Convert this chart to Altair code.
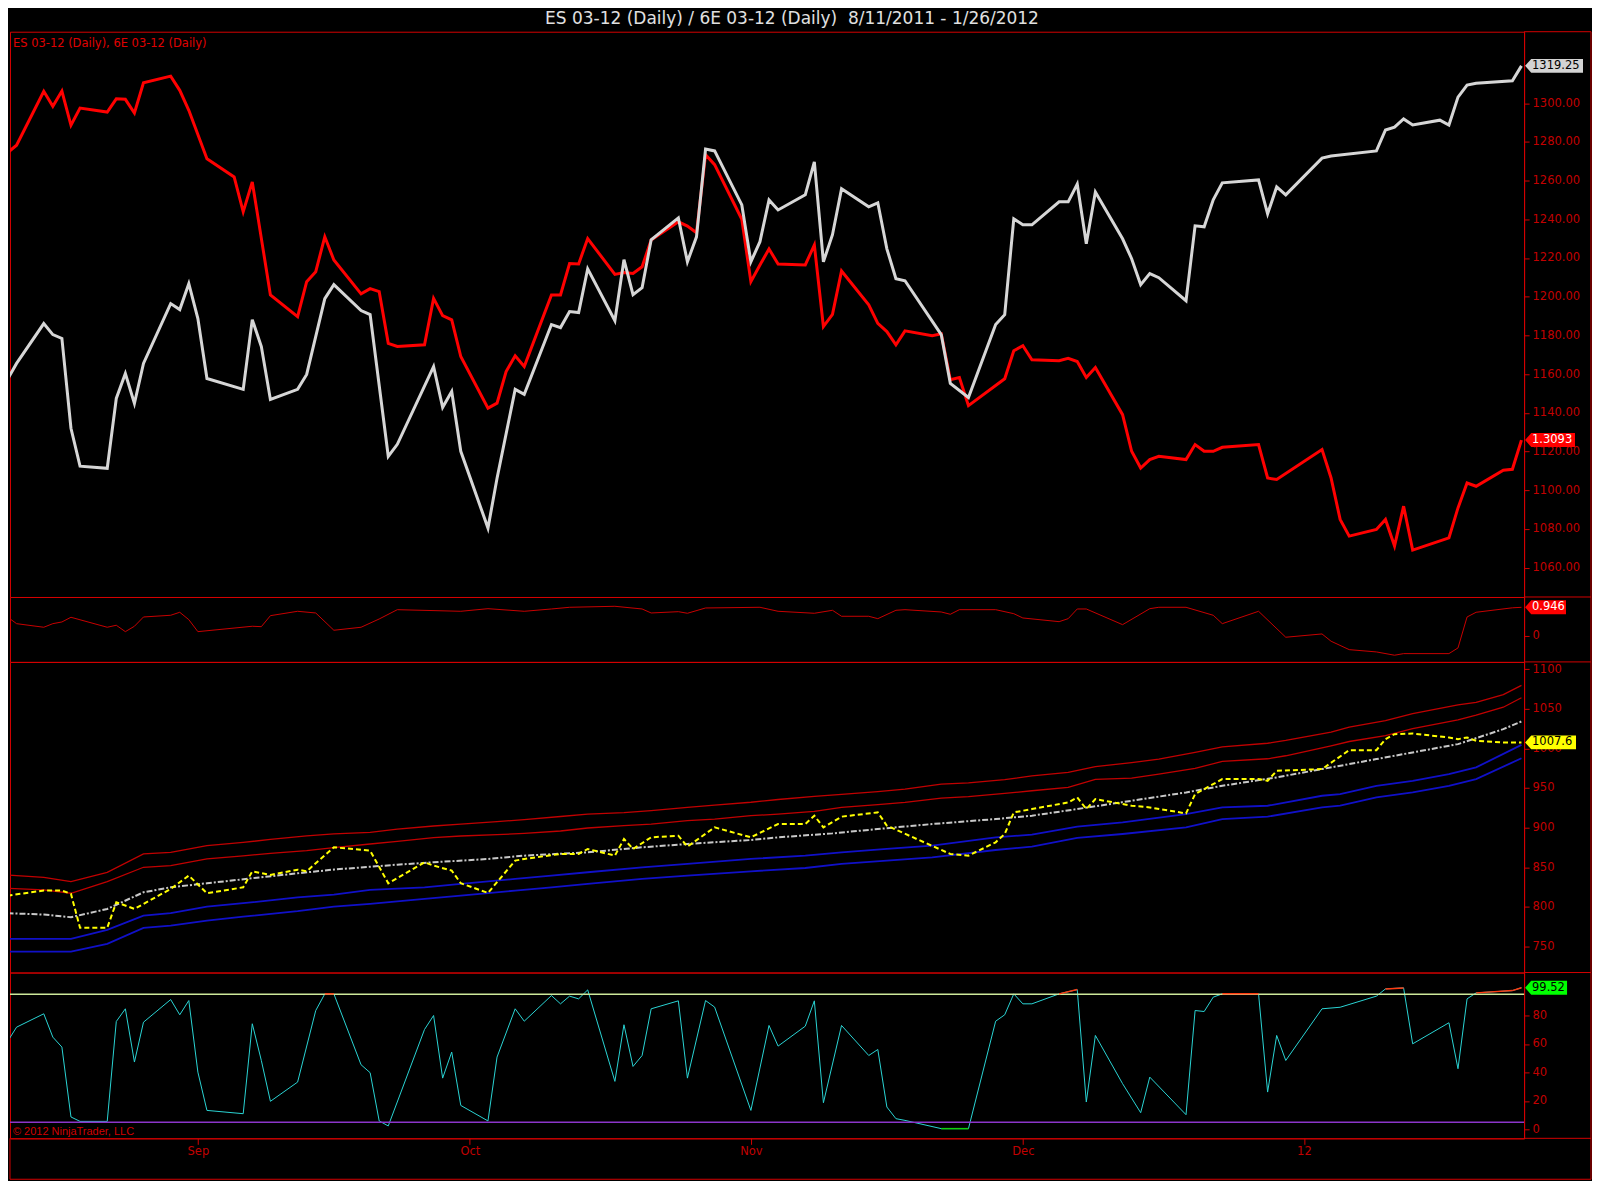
import altair as alt
import pandas as pd

# ---------------- data ----------------
# x = calendar day offset from 2011-08-11
es_day = [-1, 0, 1, 4, 5, 6, 7, 8, 11, 12, 13, 14, 15, 18, 19, 20, 21, 22, 26, 27, 28, 29, 32, 33, 35, 36,
          39, 40, 42, 43, 47, 48, 49, 50, 53, 54, 56, 57, 60, 61, 62, 63, 64, 67, 68, 69, 70, 71, 74, 75, 76,
          77, 78, 81, 82, 83, 84, 85, 88, 89, 90, 91, 92, 95, 96, 97, 98, 99, 103, 104, 106, 109, 110, 111,
          112, 113, 116, 117, 118, 119, 120, 123, 124, 125, 126, 127, 130, 131, 132, 133, 134, 138, 139, 140,
          141, 145, 146, 151, 152, 153, 154, 155, 158, 159, 160, 161, 162, 166, 167]
es_val = [1096.0, 1157.2, 1165.5, 1186.1, 1180.4, 1178.4, 1132.0, 1112.4, 1111.3, 1147.4, 1160.3, 1144.8,
          1165.5, 1196.4, 1193.3, 1206.7, 1188.7, 1157.7, 1152.1, 1188.1, 1174.2, 1146.9, 1152.1, 1159.8,
          1199.0, 1206.2, 1192.8, 1190.7, 1117.5, 1123.7, 1163.9, 1142.8, 1151.0, 1120.1, 1080.4, 1106.2,
          1152.1, 1149.5, 1185.6, 1184.0, 1192.3, 1191.8, 1214.4, 1187.6, 1219.1, 1201.0, 1204.6, 1229.4,
          1240.7, 1218.0, 1230.9, 1276.3, 1275.3, 1247.4, 1218.0, 1228.4, 1250.0, 1244.8, 1252.6, 1269.6,
          1218.0, 1232.0, 1255.7, 1246.4, 1248.5, 1224.7, 1209.3, 1208.2, 1180.4, 1155.2, 1147.9, 1185.6,
          1190.7, 1240.2, 1237.1, 1237.1, 1249.0, 1249.0, 1258.2, 1227.3, 1254.1, 1229.9, 1219.6, 1206.2,
          1211.9, 1209.8, 1197.9, 1236.6, 1236.1, 1250.0, 1258.8, 1260.3, 1242.8, 1256.7, 1252.6, 1271.6,
          1272.7, 1275.3, 1286.1, 1287.6, 1291.8, 1288.7, 1291.2, 1288.7, 1303.1, 1309.3, 1310.3, 1311.5,
          1319.25]

eur_day = [-1, 0, 1, 4, 5, 6, 7, 8, 11, 12, 13, 14, 15, 18, 19, 20, 22, 25, 26, 27, 29, 32, 33, 34, 35, 36,
           39, 40, 41, 42, 43, 46, 47, 48, 49, 50, 53, 54, 55, 56, 57, 60, 61, 62, 63, 64, 67, 68, 69, 70, 71,
           74, 75, 76, 77, 78, 81, 82, 83, 84, 85, 88, 89, 90, 91, 92, 95, 96, 97, 98, 99, 102, 103, 104, 105,
           106, 110, 111, 112, 113, 116, 117, 118, 119, 120, 123, 124, 125, 126, 127, 130, 131, 132, 133, 134,
           138, 139, 140, 145, 146, 147, 148, 151, 152, 153, 154, 155, 159, 160, 161, 162, 165, 166, 167]
eur_val = [1.4211, 1.4245, 1.4275, 1.4491, 1.4431, 1.4492, 1.4355, 1.4424, 1.4408, 1.4461, 1.4459, 1.4404,
           1.4525, 1.4552, 1.4495, 1.4415, 1.4221, 1.4148, 1.4008, 1.4128, 1.3675, 1.3588, 1.3728, 1.3768,
           1.3908, 1.3815, 1.3679, 1.3700, 1.3688, 1.3481, 1.3468, 1.3475, 1.3661, 1.3592, 1.3575, 1.3428,
           1.3221, 1.3241, 1.3368, 1.3431, 1.3388, 1.3675, 1.3675, 1.3801, 1.3799, 1.3901, 1.3757, 1.3765,
           1.3761, 1.3788, 1.3895, 1.3968, 1.3951, 1.3924, 1.4237, 1.4197, 1.3978, 1.3728, 1.3795, 1.3859,
           1.3799, 1.3795, 1.3875, 1.3548, 1.3597, 1.3771, 1.3635, 1.3561, 1.3528, 1.3475, 1.3531, 1.3511,
           1.3519, 1.3335, 1.3344, 1.3231, 1.3339, 1.3451, 1.3471, 1.3415, 1.3411, 1.3421, 1.3408, 1.3344,
           1.3384, 1.3195, 1.3048, 1.2981, 1.3015, 1.3028, 1.3015, 1.3075, 1.3048, 1.3048, 1.3064, 1.3075,
           1.2941, 1.2935, 1.3055, 1.2941, 1.2775, 1.2708, 1.2735, 1.2775, 1.2668, 1.2828, 1.2652, 1.2701,
           1.2821, 1.2921, 1.2908, 1.2972, 1.2976, 1.3093]

corr_day = [0, 1, 4, 5, 6, 7, 11, 12, 13, 14, 15, 18, 19, 20, 21, 27, 28, 29, 32, 34, 36, 39, 41, 43, 50, 53,
            57, 60, 62, 67, 70, 71, 74, 75, 77, 83, 85, 89, 91, 92, 95, 96, 98, 99, 103, 104, 105, 109, 111,
            112, 116, 117, 118, 119, 123, 126, 127, 130, 133, 134, 138, 141, 145, 146, 148, 151, 153, 154, 159,
            160, 161, 162, 166, 167]
corr_val = [0.627, 0.406, 0.287, 0.406, 0.462, 0.617, 0.287, 0.353, 0.142, 0.320, 0.627, 0.683, 0.782, 0.538,
            0.142, 0.320, 0.307, 0.670, 0.815, 0.759, 0.188, 0.287, 0.561, 0.868, 0.815, 0.901, 0.815, 0.891,
            0.947, 0.980, 0.891, 0.759, 0.802, 0.749, 0.924, 0.947, 0.815, 0.749, 0.848, 0.650, 0.650, 0.571,
            0.848, 0.868, 0.792, 0.716, 0.868, 0.868, 0.736, 0.594, 0.472, 0.571, 0.891, 0.891, 0.373, 0.901,
            0.947, 0.947, 0.683, 0.406, 0.815, -0.043, 0.066, -0.175, -0.452, -0.528, -0.637, -0.584, -0.584,
            -0.396, 0.627, 0.782, 0.930, 0.946]

up2_day = [0, 4, 7, 11, 15, 18, 22, 26, 29, 33, 36, 40, 43, 47, 50, 54, 57, 61, 64, 68, 71, 75, 78, 82, 85, 89,
           92, 96, 99, 103, 106, 110, 113, 117, 120, 124, 127, 131, 134, 139, 141, 146, 148, 152, 155, 160, 162,
           165, 167]
up2_val = [840.2, 837.2, 831.8, 843.5, 866.7, 868.7, 877.2, 881.3, 885.0, 889.5, 892.0, 894.0, 898.0, 902.0,
           904.5, 907.5, 910.0, 914.0, 917.0, 919.0, 921.5, 925.5, 928.5, 932.0, 935.5, 939.5, 942.0, 945.5,
           948.5, 955.0, 956.5, 960.5, 965.4, 969.6, 977.0, 982.0, 986.5, 995.0, 1002.0, 1006.5, 1010.0, 1020.5,
           1027.0, 1035.0, 1044.0, 1055.0, 1058.0, 1068.0, 1079.5]
up1_day = up2_day
up1_val = [823.4, 821.3, 817.1, 831.8, 849.9, 852.0, 860.4, 864.2, 867.5, 870.9, 874.7, 879.3, 882.6, 887.3,
           889.4, 891.0, 892.7, 895.7, 899.5, 902.4, 904.5, 908.7, 910.8, 915.0, 917.1, 920.5, 925.5, 928.9,
           931.8, 937.3, 939.0, 943.2, 946.5, 950.7, 960.8, 962.5, 967.6, 974.7, 983.5, 986.9, 990.7, 1003.3,
           1008.7, 1016.0, 1025.0, 1036.0, 1042.0, 1052.0, 1064.0]
mid_day = [0, 4, 7, 11, 15, 18, 22, 28, 32, 36, 43, 47, 53, 57, 64, 70, 75, 82, 85, 91, 96, 102, 109, 113, 118,
           124, 130, 134, 140, 145, 151, 155, 160, 165, 167]
mid_val = [791.9, 790.2, 786.8, 797.3, 818.3, 824.6, 829.7, 837.3, 842.3, 847.0, 853.2, 856.2, 860.4, 864.6,
           868.8, 875.1, 879.3, 884.3, 887.7, 892.7, 898.2, 904.5, 910.8, 915.0, 923.4, 933.9, 944.4, 952.8,
           963.4, 973.9, 986.5, 994.9, 1005.4, 1024.3, 1034.0]
lo1_day = [0, 7, 11, 15, 18, 22, 26, 32, 36, 40, 46, 50, 56, 60, 64, 70, 75, 82, 88, 92, 97, 102, 109, 113, 118,
           123, 130, 134, 139, 145, 147, 151, 155, 159, 162, 167]
lo1_val = [759.5, 759.5, 770.8, 788.9, 791.9, 800.3, 804.5, 812.0, 815.4, 821.3, 824.6, 828.9, 835.2, 839.4,
           843.6, 849.9, 854.1, 860.4, 864.6, 868.8, 873.0, 877.2, 887.7, 891.1, 901.2, 906.6, 917.1, 925.5,
           927.6, 940.2, 942.3, 952.8, 959.1, 967.6, 976.0, 1004.5]
lo2_day = lo1_day
lo2_val = [743.5, 743.5, 753.2, 773.4, 776.3, 782.6, 787.6, 794.4, 800.3, 803.6, 809.9, 814.1, 820.5, 824.6,
           828.9, 835.2, 839.4, 844.8, 849.0, 854.1, 858.3, 862.5, 871.7, 875.9, 886.9, 891.9, 900.3, 910.8,
           913.8, 925.5, 927.6, 938.1, 944.4, 952.8, 961.3, 987.5]
yel_day = [0, 4, 6, 7, 8, 11, 12, 14, 18, 20, 22, 26, 27, 29, 32, 33, 36, 40, 42, 46, 47, 49, 50, 53, 56, 57,
           61, 63, 64, 67, 68, 69, 71, 74, 75, 78, 82, 85, 88, 89, 90, 92, 96, 97, 104, 106, 109, 110, 111, 113,
           117, 118, 119, 120, 124, 126, 130, 131, 134, 138, 139, 140, 145, 148, 151, 152, 153, 155, 159, 160,
           161, 162, 165, 167]
yel_val = [814.1, 820.5, 820.5, 816.3, 773.4, 773.4, 805.7, 797.3, 822.5, 839.4, 817.1, 824.6, 844.8, 840.2,
           846.9, 844.8, 875.1, 870.9, 829.7, 856.2, 852.0, 845.7, 829.7, 817.5, 858.3, 860.4, 866.7, 866.7,
           873.0, 864.6, 885.6, 873.0, 887.7, 889.8, 875.9, 900.3, 887.7, 904.5, 904.5, 915.0, 900.3, 913.8,
           919.2, 902.4, 866.7, 864.6, 881.4, 891.9, 919.2, 923.4, 931.8, 938.1, 923.4, 936.0, 927.6, 925.5,
           917.9, 942.3, 961.3, 961.3, 959.1, 971.7, 973.9, 997.8, 997.8, 1011.7, 1018.0, 1018.8, 1013.8,
           1011.7, 1013.8, 1009.6, 1007.5, 1007.6]

stoch_day = [0, 1, 4, 5, 6, 7, 8, 11, 12, 13, 14, 15, 18, 19, 20, 21, 22, 26, 27, 28, 29, 32, 34, 35, 36, 39,
             40, 41, 42, 46, 47, 48, 49, 50, 53, 54, 56, 57, 60, 61, 62, 63, 64, 67, 68, 69, 70, 71, 74, 75, 77,
             78, 82, 84, 85, 88, 89, 90, 92, 95, 96, 97, 98, 99, 103, 106, 109, 110, 111, 112, 113, 116, 118,
             119, 120, 123, 125, 126, 130, 131, 132, 133, 134, 138, 139, 140, 141, 145, 147, 151, 152, 154, 155,
             159, 160, 161, 162, 166, 167]
stoch_val = [61.7, 71.8, 81.2, 64.8, 57.8, 8.7, 5.6, 5.6, 75.8, 84.7, 47.3, 75.3, 91.2, 80.5, 90.5, 40.2, 13.3,
             11.0, 74.2, 48.4, 19.7, 33.2, 83.5, 95.2, 95.2, 45.4, 39.8, 5.9, 2.4, 70.2, 80.0, 36.0, 54.3, 16.8,
             5.9, 50.8, 84.7, 76.0, 94.0, 88.2, 93.6, 91.7, 98.0, 33.7, 73.5, 44.2, 51.9, 84.7, 90.3, 36.0, 90.5,
             85.9, 13.3, 73.0, 58.5, 72.5, 90.3, 18.7, 73.0, 51.9, 56.1, 15.7, 7.5, 6.3, 0.5, 0.5, 76.0, 80.5,
             95.2, 88.2, 88.2, 95.2, 98.2, 19.2, 66.0, 32.1, 11.7, 36.7, 10.3, 83.5, 82.8, 92.9, 95.2, 95.2, 26.2,
             66.0, 48.4, 84.7, 85.8, 93.6, 98.7, 99.4, 60.1, 74.9, 42.6, 91.7, 95.9, 97.5, 99.52]
stoch_levels = [95, 5]

month_ticks = [21, 51, 82, 112, 143]
month_labels = ["Sep", "Oct", "Nov", "Dec", "12"]
es_ticks = [1060, 1080, 1100, 1120, 1140, 1160, 1180, 1200, 1220, 1240, 1260, 1280, 1300]
corr_ticks = [0]
p3_ticks = [750, 800, 850, 900, 950, 1000, 1050, 1100]
p4_ticks = [0, 20, 40, 60, 80]

title_text = "ES 03-12 (Daily) / 6E 03-12 (Daily) \u00a08/11/2011 - 1/26/2012"
legend_text = "ES 03-12 (Daily), 6E 03-12 (Daily)"
copyright_text = "\u00a9 2012 NinjaTrader, LLC"

# ---------------- styling ----------------
W = 1516
RIGHT = 67
H1, H2, H3, H4 = 566, 65, 311, 166
RED = "#d40000"
LBL = "#c20000"
FONT = "DejaVu Sans"
X_DOM = [0.275, 167.29]
ES_DOM = [1044.8, 1336.9]
EUR_DOM = [1.2464, 1.4730]
CORR_DOM = [-0.858, 1.287]
P3_DOM = [717.0, 1109.2]
P4_DOM = [-6.3, 110.2]

xscale = alt.Scale(domain=X_DOM, nice=False, zero=False)
ONE = pd.DataFrame({"k": [0]})


def df(days, vals):
    return pd.DataFrame({"day": days, "v": vals})


def yax(values, fmt):
    return alt.Axis(orient="right", values=values, format=fmt, title=None, grid=False, domain=True,
                    domainColor=RED, tickColor=RED, tickSize=5, labelColor=LBL, labelFont=FONT,
                    labelFontSize=11.5, labelPadding=3, labelFlush=False, labelOverlap=False)


def line(days, vals, dom, color, width=1.0, dash=None, axis=None):
    kw = dict(color=color, strokeWidth=width, clip=True)
    if dash:
        kw["strokeDash"] = dash
    return alt.Chart(df(days, vals)).mark_line(**kw).encode(
        x=alt.X("day:Q", scale=xscale, axis=None),
        y=alt.Y("v:Q", scale=alt.Scale(domain=dom, nice=False, zero=False), axis=axis),
    )


def flag(days, vals, dom, fill, txt, fmt, wpx):
    r = 28
    right = -1 + wpx / r
    path = f"M -1 0 L -0.78 -0.25 L {right:.3f} -0.25 L {right:.3f} 0.25 L -0.78 0.25 Z"
    d = pd.DataFrame({"day": [days[-1]], "v": [vals[-1]], "lab": [format(vals[-1], fmt)]})
    ys = alt.Y("v:Q", scale=alt.Scale(domain=dom, nice=False, zero=False), axis=None)
    shape = alt.Chart(d).mark_point(shape=path, filled=True, color=fill, opacity=1, size=(2 * r) ** 2,
                                    strokeWidth=0).encode(x=alt.value(W + 1 + r), y=ys)
    text = alt.Chart(d).mark_text(align="left", baseline="middle", color=txt, font=FONT, fontSize=11.5).encode(
        x=alt.value(W + 8), y=ys, text="lab:N")
    return [shape, text]


def frame(H, extra=0):
    b = alt.Chart(ONE)
    layers = [
        b.mark_rule(color=RED, strokeWidth=1).encode(x=alt.value(W), x2=alt.value(W + RIGHT), y=alt.value(0)),
        b.mark_rule(color=RED, strokeWidth=1).encode(x=alt.value(W + RIGHT), y=alt.value(0),
                                                     y2=alt.value(H + extra)),
    ]
    if extra:
        layers += [
            b.mark_rule(color=RED, strokeWidth=1).encode(x=alt.value(W), x2=alt.value(W + RIGHT),
                                                         y=alt.value(H)),
            b.mark_rule(color=RED, strokeWidth=1).encode(x=alt.value(0), x2=alt.value(W + RIGHT),
                                                         y=alt.value(H + extra)),
            b.mark_rule(color=RED, strokeWidth=1).encode(x=alt.value(0), y=alt.value(H),
                                                         y2=alt.value(H + extra)),
        ]
    return layers


# ---------------- panel 1: ES and 6E ----------------
p1_layers = [
    line(eur_day, eur_val, EUR_DOM, "#ff0000", 3),
    line(es_day, es_val, ES_DOM, "#d6d6d6", 3, axis=yax(es_ticks, ".2f")),
    *flag(es_day, es_val, ES_DOM, "#d3d3d3", "#000000", ".2f", 58),
    *flag(eur_day, eur_val, EUR_DOM, "#ff0000", "#ffffff", ".4f", 50),
    alt.Chart(ONE).mark_text(text=legend_text, align="left", baseline="middle", color="#e00000", font=FONT,
                             fontSize=11.5).encode(x=alt.value(3), y=alt.value(12)),
    alt.Chart(ONE).mark_text(text=title_text, align="center", baseline="middle", color="#e0e0e0", font=FONT,
                             fontSize=17).encode(x=alt.value(783), y=alt.value(-13)),
    *frame(H1),
]
p1 = alt.layer(*p1_layers).resolve_scale(y="independent").properties(width=W, height=H1)

# ---------------- panel 2: correlation ----------------
p2 = alt.layer(
    line(corr_day, corr_val, CORR_DOM, "#c80000", 1, axis=yax(corr_ticks, "d")),
    *flag(corr_day, corr_val, CORR_DOM, "#ff0000", "#ffffff", ".3f", 41),
    *frame(H2),
).resolve_axis(y="independent").properties(width=W, height=H2)

# ---------------- panel 3: bands ----------------
p3 = alt.layer(
    line(up2_day, up2_val, P3_DOM, "#c00000", 1.3, axis=yax(p3_ticks, "d")),
    line(up1_day, up1_val, P3_DOM, "#c00000", 1.3),
    line(lo1_day, lo1_val, P3_DOM, "#1010c8", 1.8),
    line(lo2_day, lo2_val, P3_DOM, "#1010c8", 1.8),
    line(mid_day, mid_val, P3_DOM, "#c8c8c8", 2, dash=[6, 2, 2, 2]),
    line(yel_day, yel_val, P3_DOM, "#ffff00", 2, dash=[5, 3]),
    *flag(yel_day, yel_val, P3_DOM, "#ffff00", "#000000", ".1f", 51),
    *frame(H3),
).resolve_axis(y="independent").properties(width=W, height=H3)

# ---------------- panel 4: stochastic ----------------
label_expr = "".join(f"datum.value == {t} ? '{l}' : " for t, l in zip(month_ticks, month_labels)) + "''"
xax = alt.Axis(orient="bottom", values=month_ticks, labelExpr=label_expr, title=None, grid=False, domain=True,
               domainColor=RED, tickColor=RED, tickSize=6, labelColor=LBL, labelFont=FONT, labelFontSize=11.5,
               labelPadding=1, labelFlush=False)
x4 = alt.X("day:Q", scale=xscale, axis=xax)
y4 = alt.Y("v:Q", scale=alt.Scale(domain=P4_DOM, nice=False, zero=False), axis=yax(p4_ticks, "d"))

lev = pd.DataFrame({"lv": stoch_levels, "c": ["#cde89a", "#8b35c9"]})
levels = alt.Chart(lev).mark_rule(strokeWidth=1.5).encode(
    y=alt.Y("lv:Q", scale=alt.Scale(domain=P4_DOM, nice=False, zero=False), axis=None),
    color=alt.Color("c:N", scale=None, legend=None),
)
stoch_df = df(stoch_day, stoch_val)
stoch_line = alt.Chart(stoch_df).mark_line(color="#2ad4d4", strokeWidth=1, clip=True).encode(x=x4, y=y4)

segs = []
for i in range(len(stoch_day) - 1):
    a, b = stoch_val[i], stoch_val[i + 1]
    if a >= 95 and b >= 95:
        kind = "#ff3a10"
    elif a <= 5 and b <= 5:
        kind = "#10d010"
    else:
        continue
    segs.append({"day": stoch_day[i], "v": a, "day2": stoch_day[i + 1], "v2": b, "c": kind})
seg_df = pd.DataFrame(segs)
seg_layer = alt.Chart(seg_df).mark_rule(strokeWidth=1.5).encode(
    x=x4, x2="day2:Q",
    y=alt.Y("v:Q", scale=alt.Scale(domain=P4_DOM, nice=False, zero=False), axis=None), y2="v2:Q",
    color=alt.Color("c:N", scale=None, legend=None),
)

p4 = alt.layer(
    stoch_line,
    levels,
    seg_layer,
    *flag(stoch_day, stoch_val, P4_DOM, "#00ff00", "#000000", ".2f", 42),
    alt.Chart(ONE).mark_text(text=copyright_text, align="left", baseline="middle", color="#d00000",
                             font="Liberation Sans", fontSize=11).encode(x=alt.value(3), y=alt.value(160)),
    *frame(H4, extra=41),
).resolve_axis(y="independent").properties(width=W, height=H4)

chart = alt.vconcat(p1, p2, p3, p4, spacing=0, bounds="flush",
                    padding={"left": 0, "top": 0, "right": 0, "bottom": 0}).configure(
    background="#000000").configure_view(stroke=RED, strokeWidth=1)

chart.save("out.html", embed_options={"renderer": "svg", "actions": False})
